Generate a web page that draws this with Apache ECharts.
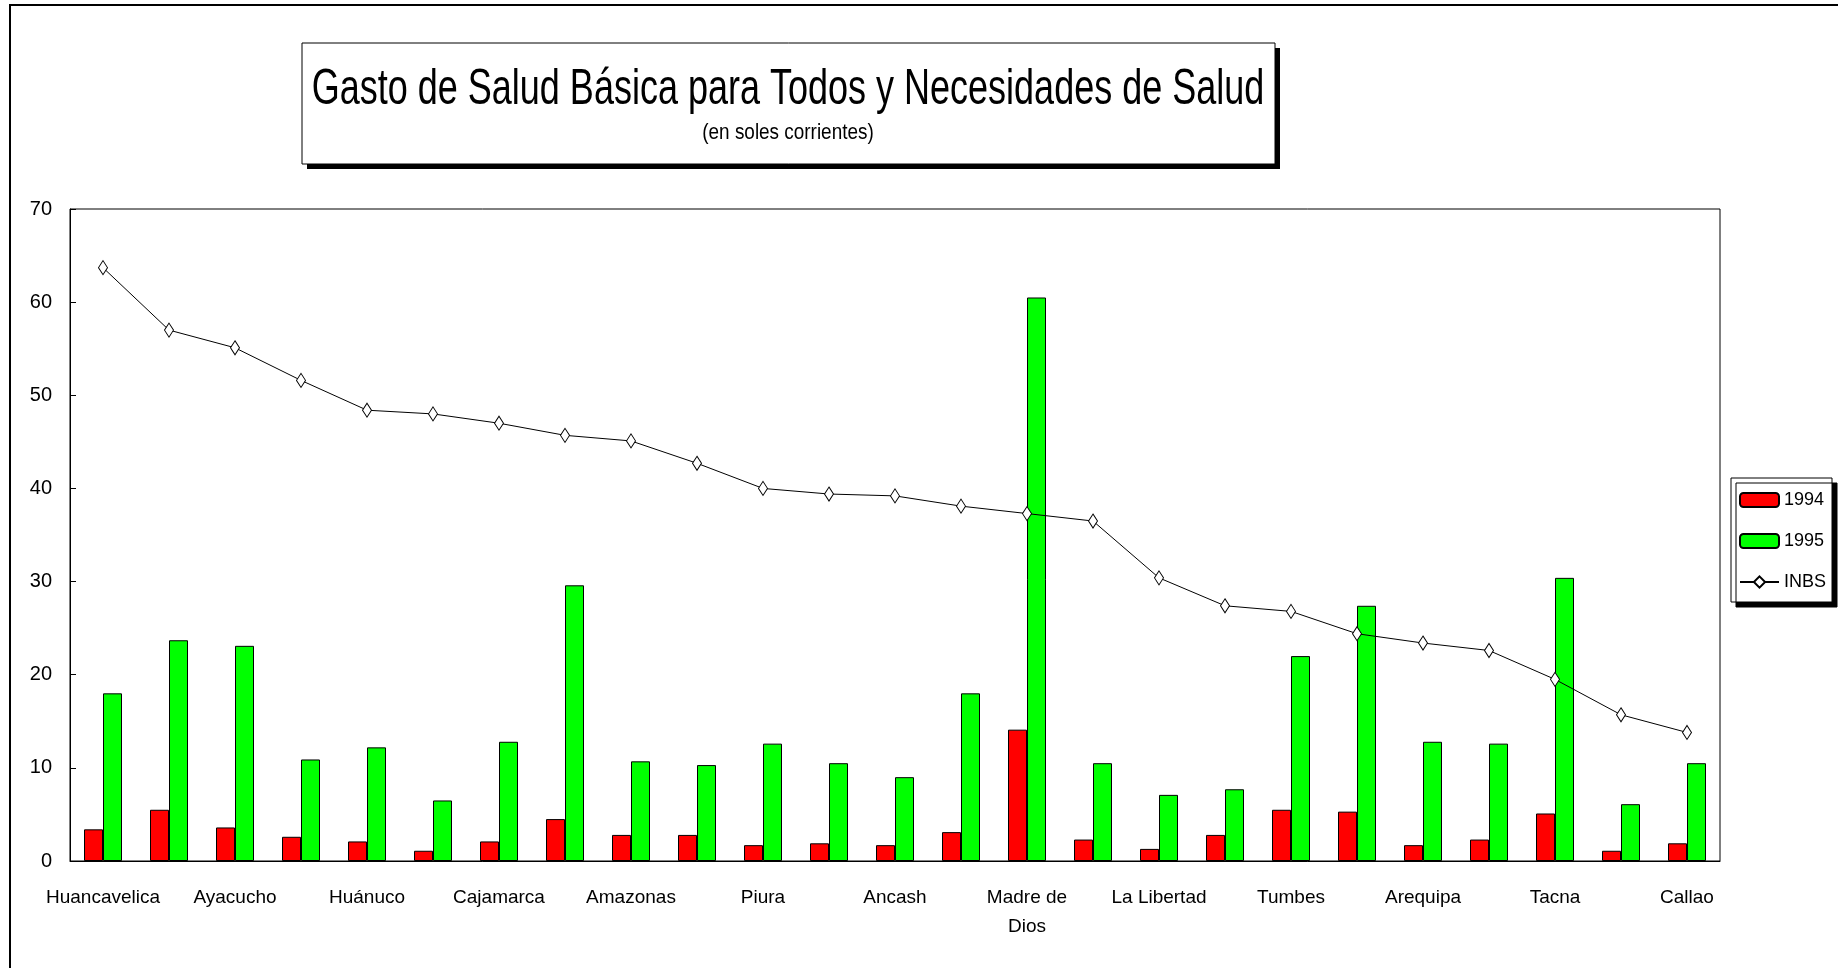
<!DOCTYPE html>
<html>
<head>
<meta charset="utf-8">
<script src="https://cdn.jsdelivr.net/npm/echarts@6/dist/echarts.min.js"></script>
<style>
  html, body { margin: 0; padding: 0; background: #fff; }
  #chart { width: 1838px; height: 968px; }
</style>
</head>
<body>
<div id="chart"></div>
<script>
const categories = ['Huancavelica','Apurímac','Ayacucho','Puno','Huánuco','Cusco','Cajamarca','Loreto','Amazonas','Pasco','Piura','San Martín','Ancash','Ucayali','Madre de Dios','Junín','La Libertad','Lambayeque','Tumbes','Ica','Arequipa','Moquegua','Tacna','Lima','Callao'];
const gasto1994 = [3.4, 5.5, 3.6, 2.6, 2.1, 1.1, 2.1, 4.5, 2.8, 2.8, 1.7, 1.9, 1.7, 3.1, 14.1, 2.3, 1.3, 2.8, 5.5, 5.3, 1.7, 2.3, 5.1, 1.1, 1.9];
const gasto1995 = [18.0, 23.7, 23.1, 10.9, 12.2, 6.5, 12.8, 29.6, 10.7, 10.3, 12.6, 10.5, 9.0, 18.0, 60.5, 10.5, 7.1, 7.7, 22.0, 27.4, 12.8, 12.6, 30.4, 6.1, 10.5];
const inbs = [63.7, 57.0, 55.1, 51.6, 48.4, 48.0, 47.0, 45.7, 45.1, 42.7, 40.0, 39.4, 39.2, 38.1, 37.3, 36.5, 30.4, 27.4, 26.8, 24.4, 23.4, 22.6, 19.5, 15.7, 13.8];
const seriesNames = ['1994', '1995', 'INBS'];
const titleText = 'Gasto de Salud Básica para Todos y Necesidades de Salud';
const subtitleText = '(en soles corrientes)';

const FONT = "'Liberation Sans', Arial, sans-serif";

const chart = echarts.init(document.getElementById('chart'), null, { renderer: 'canvas' });
chart.setOption({
  backgroundColor: '#fff',
  animation: false,
  graphic: [
    { type: 'rect', z: 0, shape: { x: 10, y: 5, width: 2000, height: 2000 }, style: { fill: 'none', stroke: '#000', lineWidth: 2 } },
    { type: 'rect', z: 1, shape: { x: 307, y: 48, width: 973, height: 121 }, style: { fill: '#000' } },
    { type: 'rect', z: 2, shape: { x: 302, y: 43, width: 973, height: 121 }, style: { fill: '#fff', stroke: '#000', lineWidth: 1 } },
    { type: 'text', z: 3, x: 788, y: 90, scaleX: 0.75, scaleY: 1.05, style: { text: titleText, fontFamily: FONT, fontSize: 48, fill: '#000', align: 'center', verticalAlign: 'middle' } },
    { type: 'text', z: 3, x: 788, y: 133, scaleX: 0.86, scaleY: 1, style: { text: subtitleText, fontFamily: FONT, fontSize: 22, fill: '#000', align: 'center', verticalAlign: 'middle' } }
  ],
  legend: {
    orient: 'vertical',
    left: 1731,
    top: 478,
    padding: [12, 6, 10, 8],
    itemGap: 21,
    itemWidth: 39,
    itemHeight: 14,
    backgroundColor: '#fff',
    borderColor: '#000',
    borderWidth: 1,
    shadowColor: '#000',
    shadowOffsetX: 5,
    shadowOffsetY: 5,
    shadowBlur: 0,
    textStyle: { fontFamily: FONT, fontSize: 18, color: '#000', lineHeight: 20 },
    data: seriesNames
  },
  grid: {
    left: 70, right: 118, top: 209, bottom: 107,
    show: true, borderColor: '#000', borderWidth: 1, backgroundColor: 'transparent'
  },
  xAxis: {
    type: 'category',
    data: categories,
    boundaryGap: true,
    axisLine: { lineStyle: { color: '#000', width: 1 } },
    axisTick: { inside: true, length: 6, interval: 0, lineStyle: { color: '#000' } },
    axisLabel: {
      interval: 1, margin: 22, fontFamily: FONT, fontSize: 19, color: '#000', lineHeight: 29,
      formatter: function (v) { return v === 'Madre de Dios' ? 'Madre de\nDios' : v; }
    },
    splitLine: { show: false }
  },
  yAxis: {
    type: 'value',
    min: 0, max: 70, interval: 10,
    axisLine: { show: true, lineStyle: { color: '#000', width: 1 } },
    axisTick: { show: true, inside: true, length: 6, lineStyle: { color: '#000' } },
    axisLabel: { margin: 18, fontFamily: FONT, fontSize: 20, color: '#000' },
    splitLine: { show: false }
  },
  series: [
    {
      name: seriesNames[0], type: 'bar', data: gasto1994, barWidth: 19, barGap: '0%',
      itemStyle: { color: '#FF0000', borderColor: '#000', borderWidth: 1 }
    },
    {
      name: seriesNames[1], type: 'bar', data: gasto1995, barWidth: 19, barGap: '0%',
      itemStyle: { color: '#00FF00', borderColor: '#000', borderWidth: 1 }
    },
    {
      name: seriesNames[2], type: 'line', data: inbs, z: 5,
      symbol: 'diamond', symbolSize: [9, 14], showSymbol: true,
      lineStyle: { color: '#000', width: 1 },
      itemStyle: { color: '#fff', borderColor: '#000', borderWidth: 1 }
    }
  ]
});
</script>
</body>
</html>
